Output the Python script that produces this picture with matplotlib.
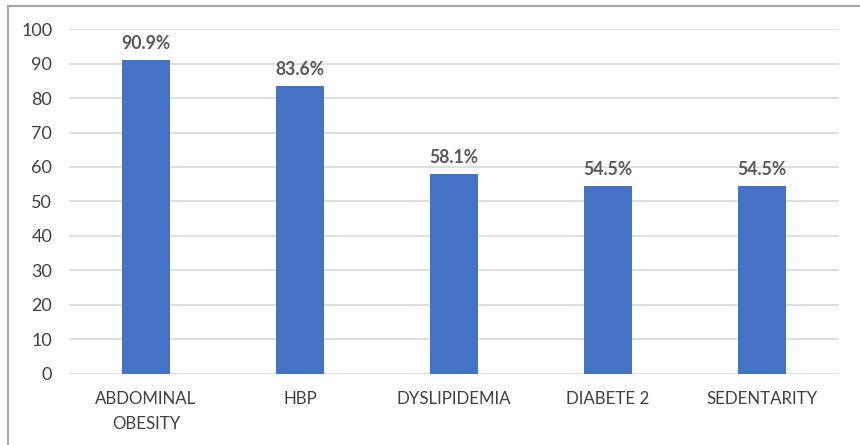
import matplotlib.pyplot as plt
from matplotlib.lines import Line2D

categories = ["ABDOMINAL\nOBESITY", "HBP", "DYSLIPIDEMIA", "DIABETE 2", "SEDENTARITY"]
values = [90.9, 83.6, 58.1, 54.5, 54.5]
yticks = [0, 10, 20, 30, 40, 50, 60, 70, 80, 90, 100]

plt.rcParams['font.family'] = ['Lato', 'DejaVu Sans']

fig = plt.figure(figsize=(8.6, 4.45), dpi=100)
ax = fig.add_axes([0.0802, 0.1596, 0.8954, 0.7752])

x = list(range(len(categories)))
bars = ax.bar(x, values, width=0.31, color="#4472C4", zorder=3)

for xi, v in zip(x, values):
    ax.text(xi, v + 2.3, f"{v:.1f}%", ha="center", va="bottom",
            fontsize=12.7, fontweight="bold", color="#595959")

ax.set_xlim(-0.5, len(categories) - 0.5)
ax.set_ylim(0, 100)
ax.set_yticks(yticks)
ax.set_yticklabels([str(t) for t in yticks], fontsize=13, color="#404040")
ax.set_xticks(x)
ax.set_xticklabels(categories, fontsize=12.2, color="#404040", linespacing=1.75)
ax.tick_params(axis="both", length=0)
ax.tick_params(axis="x", pad=12)
ax.tick_params(axis="y", pad=12)
ax.yaxis.grid(True, color="#d9d9d9", linewidth=1.2, zorder=0)
for s in ax.spines.values():
    s.set_visible(False)

# chart frame: top and left edges
fig.add_artist(Line2D([8 / 860, 1.0], [1 - 6 / 445, 1 - 6 / 445],
                      transform=fig.transFigure, color="#a6a6a6", linewidth=1.5))
fig.add_artist(Line2D([8 / 860, 8 / 860], [0, 1 - 6 / 445],
                      transform=fig.transFigure, color="#a6a6a6", linewidth=1.5))

fig.savefig("out.png", dpi=100)
